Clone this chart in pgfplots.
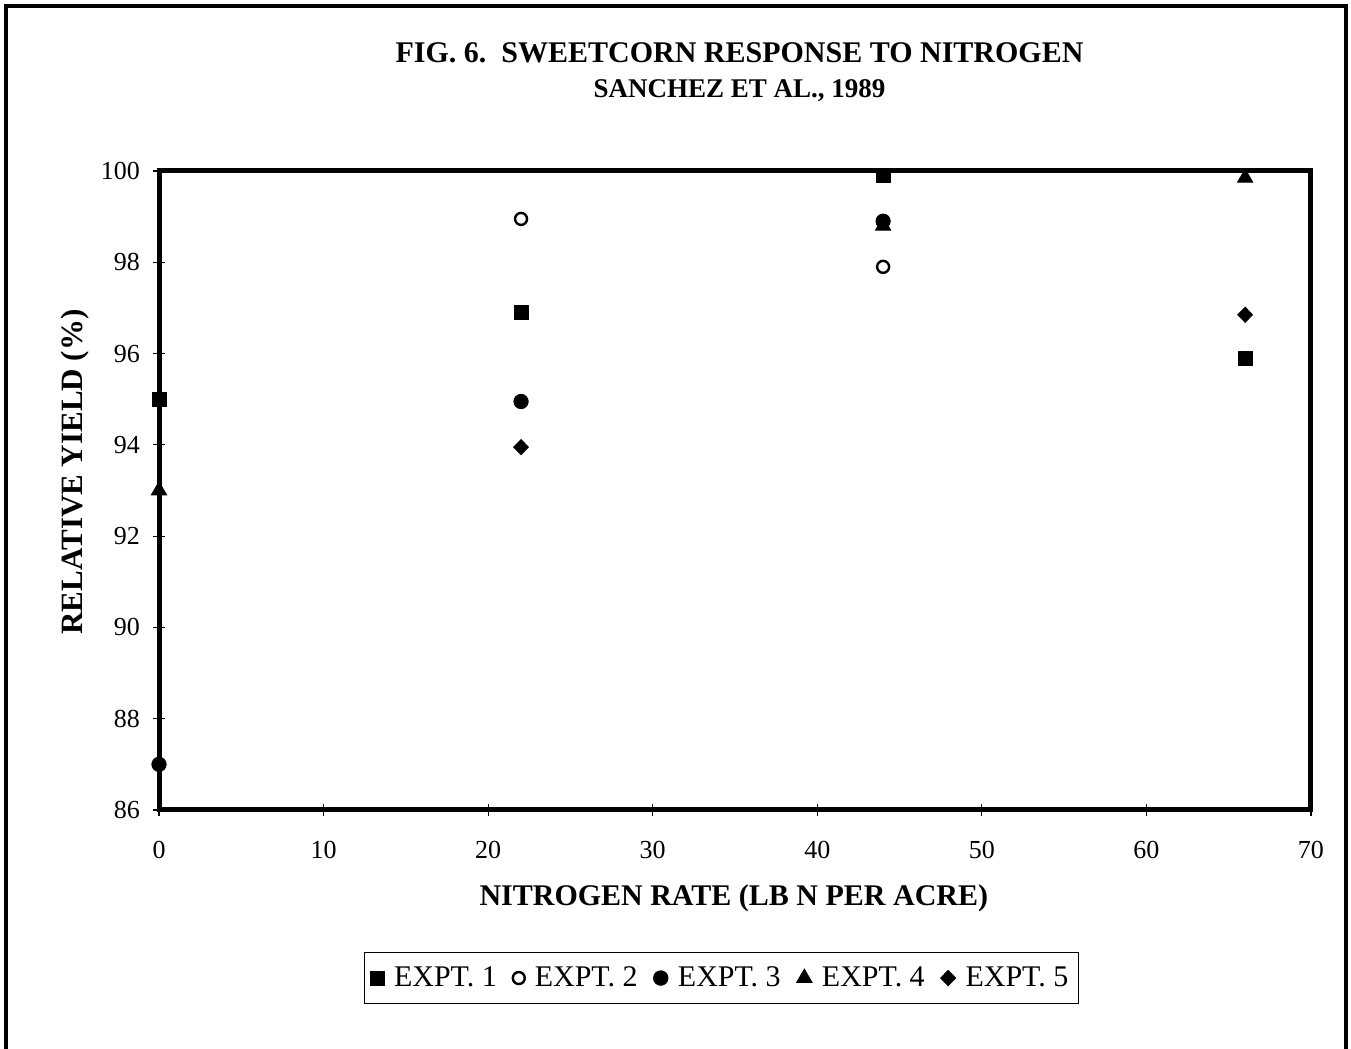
\documentclass[border=0pt]{standalone}
\usepackage{pgfplots}
\pgfplotsset{compat=1.18}
\usepackage{fontspec}
\setmainfont{Liberation Serif}
\begin{document}
\begin{tikzpicture}[x=1pt,y=1pt]
  \useasboundingbox (0,0) rectangle (675.5,524.5);
  % outer frame (no bottom edge)
  \draw[line width=2pt] (3,0) -- (3,521.5) -- (673,521.5) -- (673,0);
  \begin{axis}[
    at={(79.5pt,119.5pt)}, anchor=south west,
    scale only axis,
    width=576pt, height=319.5pt,
    xmin=0, xmax=70, ymin=86, ymax=100,
    xtick={0,10,...,70}, ytick={86,88,...,100},
    xtick pos=bottom, ytick pos=left,
    tick align=center, major tick length=6pt,
    axis line style={line width=2.5pt},
    every tick/.style={black, line width=0.6pt},
    tick label style={font=\fontsize{13}{15}\selectfont},
    /pgf/number format/assume math mode=true,
    xticklabel style={yshift=-9pt},
    yticklabel style={xshift=-3pt},
    clip=false,
    title={FIG. 6.\ \ SWEETCORN RESPONSE TO NITROGEN\\[0pt]{\fontsize{13.5}{15}\selectfont SANCHEZ ET AL., 1989}},
    title style={font=\bfseries\fontsize{15}{17.5}\selectfont, align=center, at={(0.504,1.159)}, anchor=center, yshift=-7.5pt},
    xlabel={NITROGEN RATE (LB N PER ACRE)},
    xlabel style={font=\bfseries\fontsize{15}{17}\selectfont, at={(0.499,-0.138)}, anchor=center},
    ylabel={RELATIVE YIELD (\%)},
    ylabel style={font=\bfseries\fontsize{15.5}{17}\selectfont, at={(-0.073,0.529)}, anchor=center},
    legend columns=5,
    legend style={at={(0.488,-0.263)}, anchor=center, draw=black, line width=0.5pt,
      font=\fontsize{15}{17}\selectfont, inner xsep=3pt, inner ysep=5pt,
      /tikz/every odd column/.append style={column sep=3pt},
      /tikz/every even column/.append style={column sep=6pt}},
    legend cell align=left,
  ]
    \addplot[only marks, mark=square*, mark size=3.5pt, black] coordinates {
      (0,95.0) (22,96.9) (44,99.9) (66,95.9)
    };
    \addlegendentry{EXPT. 1}
    \addplot[only marks, mark=o, mark size=3pt, black, line width=1.2pt] coordinates {
      (22,98.95) (44,97.9)
    };
    \addlegendentry{EXPT. 2}
    \addplot[only marks, mark=*, mark size=3.6pt, black] coordinates {
      (0,87.0) (22,94.95) (44,98.9)
    };
    \addlegendentry{EXPT. 3}
    \addplot[only marks, mark=triangle*, mark size=4.4pt, black] coordinates {
      (0,93.0) (44,98.8) (66,99.85)
    };
    \addlegendentry{EXPT. 4}
    \addplot[only marks, mark=diamond*, mark size=3.8pt, black, mark options={xscale=1.3}] coordinates {
      (22,93.95) (66,96.85)
    };
    \addlegendentry{EXPT. 5}
  \end{axis}
\end{tikzpicture}
\end{document}
